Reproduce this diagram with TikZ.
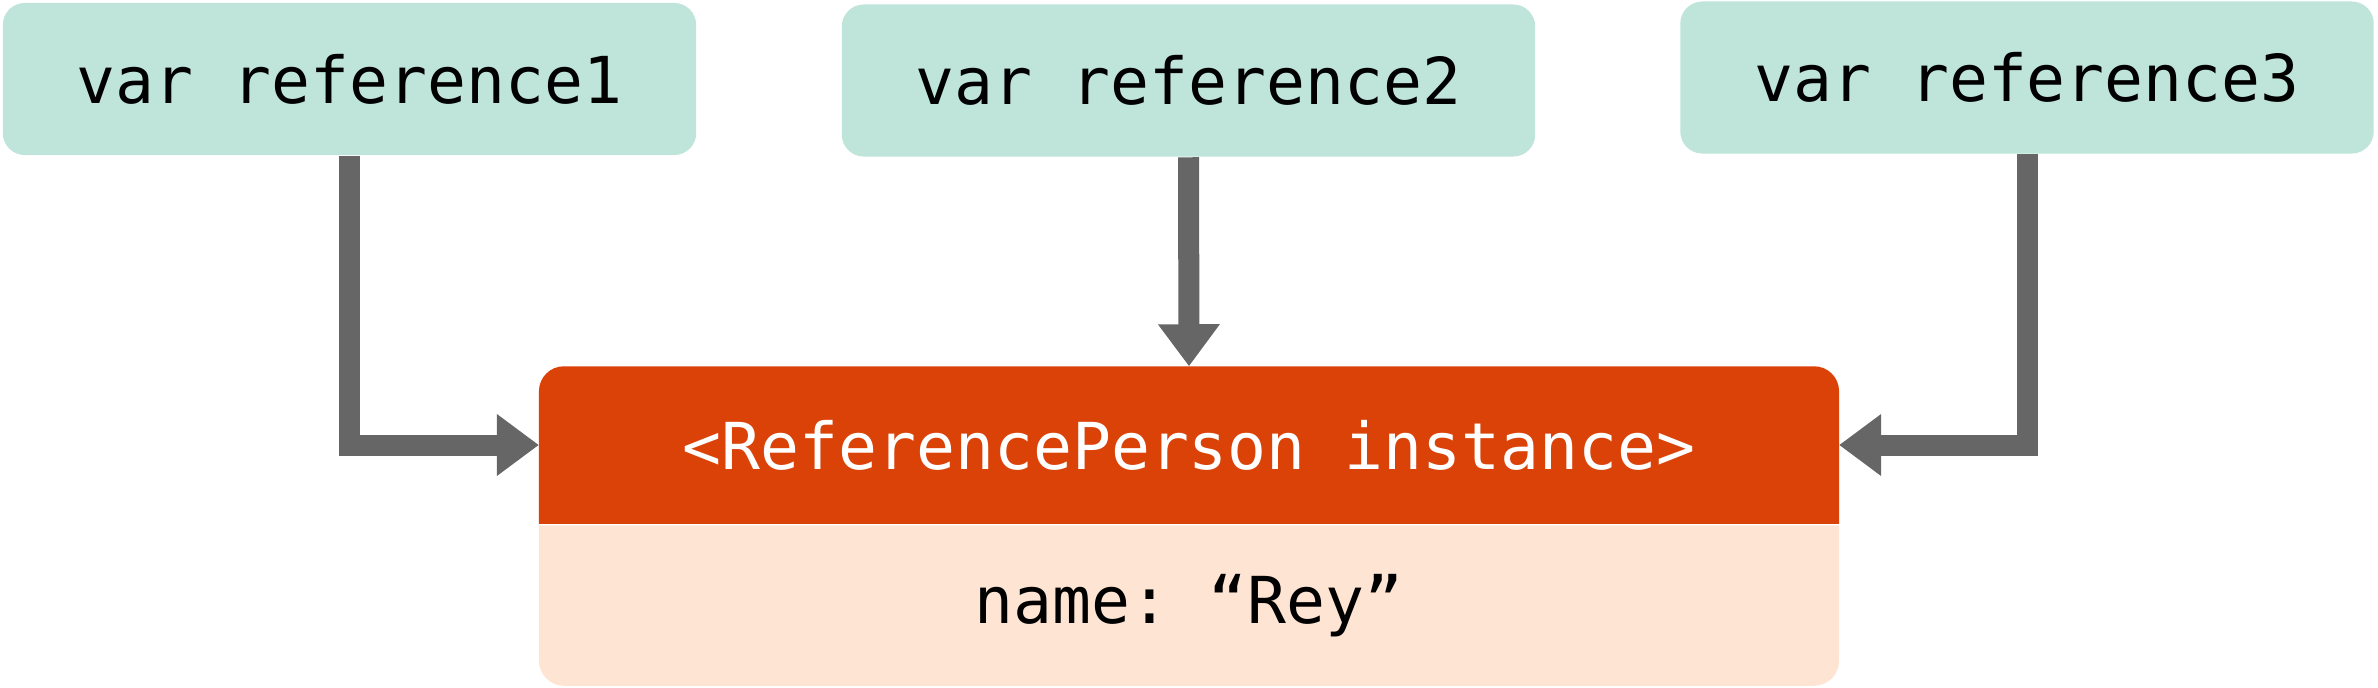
\documentclass[tikz,border=0pt]{standalone}
\usepackage{xcolor}
\usepackage{fontspec}
\setmonofont{DejaVu Sans Mono}
\usepackage{tikz}
\usetikzlibrary{arrows.meta,backgrounds}

\definecolor{refgreen}{HTML}{BFE4DA}
\definecolor{instred}{HTML}{DA4208}
\definecolor{instpeach}{HTML}{FEE4D3}
\definecolor{arrowgray}{HTML}{666666}

\tikzset{
    refbox/.style={fill=refgreen,rectangle,rounded corners=0.22cm,inner sep=0pt,
        minimum width=6.93cm,minimum height=1.52cm,
        font=\ttfamily\fontsize{18.4}{22}\selectfont},
    instbox/.style={rectangle,inner sep=0pt,minimum width=12.98cm,minimum height=1.56cm,
        text=white,font=\ttfamily\fontsize{18.4}{22}\selectfont},
    fieldbox/.style={rectangle,inner sep=0pt,minimum width=12.98cm,minimum height=1.59cm,
        font=\ttfamily\fontsize{18.4}{22}\selectfont},
    refarrow/.style={draw=arrowgray,line width=0.21cm,line join=miter,
        -{Triangle[length=0.42cm,width=0.59cm]}}
}

\begin{document}
\begin{tikzpicture}[x=0.01cm,y=-0.01cm]
        \useasboundingbox (0,0) rectangle (2378,687);
        \node[refbox] (ref1) at (349.5,79) {var reference1};
        \node[refbox] (ref2) at (1188.5,80.5) {var reference2};
        \node[refbox] (ref3) at (2027,77.5) {var reference3};
        \node[instbox] (header) at (1189,445) {<ReferencePerson instance>};
        \node[fieldbox] (field) at (1189,605.5) {name: “Rey”};
        \begin{scope}[on background layer]
            \fill[instred] (header.south west) [rounded corners=0.25cm] -- (header.north west)
                -- (header.north east) [sharp corners] -- (header.south east) -- cycle;
            \fill[instpeach] (field.north west) [rounded corners=0.25cm] -- (field.south west)
                -- (field.south east) [sharp corners] -- (field.north east) -- cycle;
        \end{scope}
        \draw[refarrow] (ref1.south) |- (header.west);
        \draw[refarrow] (ref2.south) -- (header.north);
        \draw[refarrow] (ref3.south) |- (header.east);
    \end{tikzpicture}
\end{document}
